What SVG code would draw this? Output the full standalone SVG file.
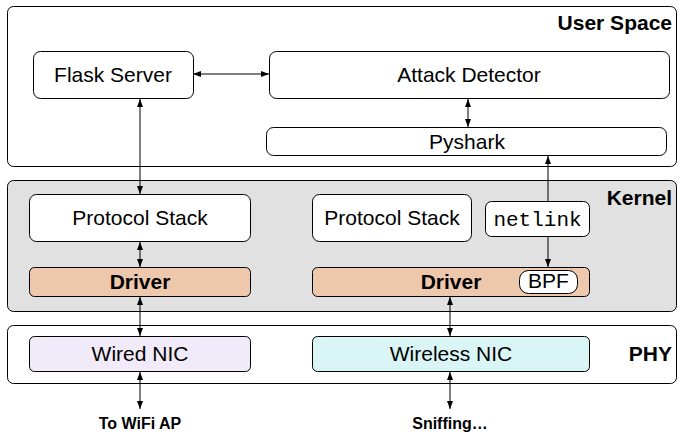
<svg xmlns="http://www.w3.org/2000/svg" width="684" height="444" viewBox="0 0 684 444">
<style>
.box{stroke:#000;stroke-width:1;}
.lbl{font-family:"Liberation Sans",Arial,sans-serif;font-size:21px;fill:#000;text-anchor:middle;}
.bold{font-family:"Liberation Sans",Arial,sans-serif;font-weight:bold;fill:#000;}
.mono{font-family:"Liberation Mono","Courier New",monospace;font-size:21px;fill:#000;text-anchor:middle;}
.conn{stroke:#000;stroke-width:1;fill:none;marker-start:url(#ah);marker-end:url(#ah);}
</style>
<defs>
<marker id="ah" viewBox="0 0 8 6" refX="8" refY="3" markerWidth="8" markerHeight="6" markerUnits="userSpaceOnUse" orient="auto-start-reverse">
<path d="M0,0 L8,3 L0,6 z" fill="#000"/>
</marker>
</defs>
<g id="user-space">
<rect class="box" x="7.5" y="6.5" width="669" height="160" rx="6" fill="#fff"/>
<text class="bold" x="672" y="30" font-size="21" text-anchor="end">User Space</text>
</g>
<g id="kernel">
<rect class="box" x="7.5" y="180.5" width="669" height="131" rx="6" fill="#e1e1e1"/>
<text class="bold" x="672" y="205" font-size="21" text-anchor="end">Kernel</text>
</g>
<g id="phy">
<rect class="box" x="7.5" y="325.5" width="669" height="58" rx="6" fill="#fff"/>
<text class="bold" x="672" y="361" font-size="21" text-anchor="end">PHY</text>
</g>
<g id="connectors">
<line class="conn" x1="193" y1="74" x2="269" y2="74"/>
<line class="conn" x1="468" y1="99" x2="468" y2="127"/>
<line class="conn" x1="140" y1="99" x2="140" y2="194"/>
<line class="conn" x1="140" y1="242" x2="140" y2="267"/>
<line class="conn" x1="140" y1="297" x2="140" y2="336"/>
<line class="conn" x1="140" y1="372" x2="140" y2="409"/>
<line class="conn" x1="548" y1="156" x2="548" y2="267"/>
<line class="conn" x1="450" y1="297" x2="450" y2="336"/>
<line class="conn" x1="450" y1="372" x2="450" y2="409"/>
</g>
<g id="flask-server">
<rect class="box" x="33.5" y="51.5" width="160" height="47" rx="7" fill="#fff"/>
<text class="lbl" x="113" y="82">Flask Server</text>
</g>
<g id="attack-detector">
<rect class="box" x="269.5" y="51.5" width="400" height="47" rx="7" fill="#fff"/>
<text class="lbl" x="469" y="82">Attack Detector</text>
</g>
<g id="pyshark">
<rect class="box" x="266.5" y="127.5" width="400" height="28" rx="7" fill="#fff"/>
<text class="lbl" x="467" y="149">Pyshark</text>
</g>
<g id="protocol-stack-1">
<rect class="box" x="29.5" y="194.5" width="221" height="47" rx="7" fill="#fff"/>
<text class="lbl" x="140" y="225">Protocol Stack</text>
</g>
<g id="protocol-stack-2">
<rect class="box" x="312.5" y="194.5" width="159" height="47" rx="7" fill="#fff"/>
<text class="lbl" x="392" y="225">Protocol Stack</text>
</g>
<g id="netlink">
<rect class="box" x="485.5" y="201.5" width="104" height="35" rx="6" fill="#fff"/>
<text class="mono" x="537.5" y="226">netlink</text>
</g>
<g id="driver-1">
<rect class="box" x="29.5" y="267.5" width="221" height="29" rx="5" fill="#eec8ad"/>
<text class="bold" x="140" y="289" font-size="21" text-anchor="middle">Driver</text>
</g>
<g id="driver-2">
<rect class="box" x="312.5" y="267.5" width="277" height="29" rx="5" fill="#eec8ad"/>
<text class="bold" x="451" y="289" font-size="21" text-anchor="middle">Driver</text>
</g>
<g id="bpf">
<rect class="box" x="519.5" y="270.5" width="58" height="23" rx="9" fill="#fff"/>
<text class="lbl" x="548.5" y="287.5" font-size="14">BPF</text>
</g>
<g id="wired-nic">
<rect class="box" x="29.5" y="336.5" width="221" height="35" rx="5" fill="#f1eaf8"/>
<text class="lbl" x="140" y="361">Wired NIC</text>
</g>
<g id="wireless-nic">
<rect class="box" x="312.5" y="336.5" width="277" height="35" rx="5" fill="#d9f5f5"/>
<text class="lbl" x="451" y="361">Wireless NIC</text>
</g>
<g id="to-wifi-ap">
<text class="bold" x="140" y="429" font-size="16" text-anchor="middle">To WiFi AP</text>
</g>
<g id="sniffing">
<text class="bold" x="450" y="429" font-size="16" text-anchor="middle">Sniffing…</text>
</g>
</svg>
